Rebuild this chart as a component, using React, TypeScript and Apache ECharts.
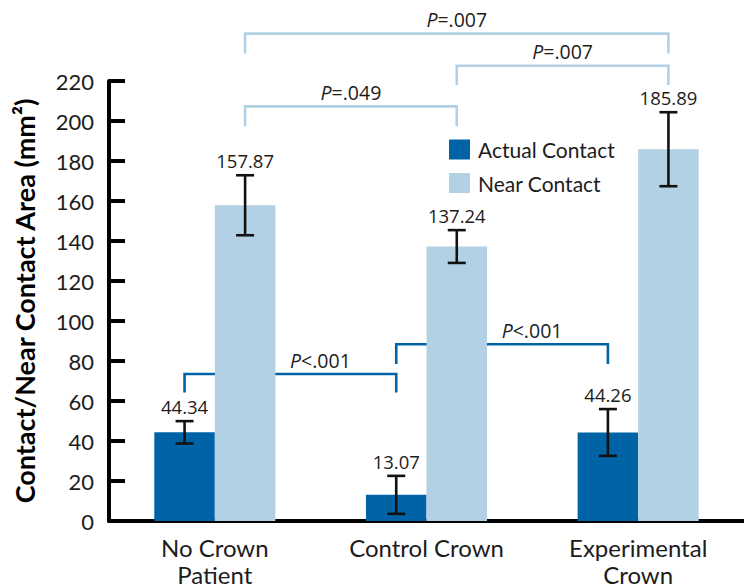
import React, { useEffect, useRef } from "react";
import * as echarts from "echarts";

// Group labels along the x axis
const categories = ["No Crown\nPatient", "Control Crown", "Experimental\nCrown"];

// Mean contact areas (mm²) and their error bar half-widths
const actualMeans = [44.34, 13.07, 44.26];
const actualErrors = [5.6, 9.5, 11.7];
const nearMeans = [157.87, 137.24, 185.89];
const nearErrors = [15.0, 8.2, 18.5];

// Y axis ticks
const yMin = 0;
const yMax = 220;
const yStep = 20;

// Significance brackets: [fromGroup, toGroup, barLevel, legLevel]
const actualBrackets = [
  [0, 1, 73.5, 64.2],
  [1, 2, 88.4, 78.5],
];
const actualBracketLabels = ["P<.001", "P<.001"];
const nearBrackets = [
  [0, 1, 207.3, 197.4],
  [1, 2, 227.6, 218.0],
  [0, 2, 243.7, 233.7],
];
const nearBracketLabels = ["P=.049", "P=.007", "P=.007"];

const DARK = "#0063a6";
const LIGHT = "#b3d1e5";
const INK = "#1c1c1c";
const FONT = "'Open Sans', 'Noto Sans', sans-serif";
const LABEL_FONT = "Lato, 'Open Sans', sans-serif";
const BAR_FRACTION = 0.286; // bar width as share of a category band

function pLabelRich(label: string) {
  // italic P followed by the comparison
  return "{i|P}{n|" + label.slice(1) + "}";
}

function errorRender(sign: number) {
  return (params: any, api: any) => {
    const idx = api.value(0);
    const mean = api.value(1);
    const err = api.value(2);
    const band = api.size([1, 0])[0];
    const dx = (sign * band * BAR_FRACTION) / 2;
    const top = api.coord([idx, mean + err]);
    const bot = api.coord([idx, mean - err]);
    const x = top[0] + dx;
    const cap = 9;
    const stroke = { stroke: "#111", lineWidth: 2.6 };
    return {
      type: "group",
      children: [
        { type: "line", shape: { x1: x, y1: top[1], x2: x, y2: bot[1] }, style: stroke },
        { type: "line", shape: { x1: x - cap, y1: top[1], x2: x + cap, y2: top[1] }, style: stroke },
        { type: "line", shape: { x1: x - cap, y1: bot[1], x2: x + cap, y2: bot[1] }, style: stroke },
        {
          type: "text",
          x: x,
          y: top[1] - 5,
          style: {
            text: mean.toFixed(2),
            fill: INK,
            fontSize: 18.5,
            fontFamily: FONT,
            align: "center",
            verticalAlign: "bottom",
          },
        },
      ],
    };
  };
}

function bracketRender(sign: number, color: string, labels: string[], labelShift: number) {
  return (params: any, api: any) => {
    const a = api.value(0);
    const b = api.value(1);
    const level = api.value(2);
    const leg = api.value(3);
    const band = api.size([1, 0])[0];
    const dx = (sign * band * BAR_FRACTION) / 2;
    const pA = api.coord([a, level]);
    const pB = api.coord([b, level]);
    const legY = api.coord([a, leg])[1];
    const x1 = pA[0] + dx;
    const x2 = pB[0] + dx;
    const y = pA[1];
    return {
      type: "group",
      children: [
        {
          type: "polyline",
          shape: { points: [[x1, legY], [x1, y], [x2, y], [x2, legY]] },
          style: { stroke: color, lineWidth: 2.6, fill: "none" },
        },
        {
          type: "text",
          x: (x1 + x2) / 2 + labelShift,
          y: y - 4,
          style: {
            text: pLabelRich(labels[params.dataIndex]),
            align: "center",
            verticalAlign: "bottom",
            fill: INK,
            fontSize: 19.5,
            fontFamily: FONT,
            rich: {
              i: { fontStyle: "italic", fontSize: 19.5, fontFamily: FONT, fill: INK },
              n: { fontSize: 19.5, fontFamily: FONT, fill: INK },
            },
          },
        },
      ],
    };
  };
}

export default function App() {
  const ref = useRef<HTMLDivElement>(null);

  useEffect(() => {
    document.body.style.margin = "0";
    if (!ref.current) return;
    const chart = echarts.init(ref.current, null, { renderer: "svg" });
    chart.setOption({
      animation: false,
      backgroundColor: "#ffffff",
      textStyle: { fontFamily: FONT },
      grid: { left: 109, top: 81, width: 639, height: 444, containLabel: false },
      legend: {
        data: ["Actual Contact", "Near Contact"],
        orient: "vertical",
        left: 449,
        top: 139,
        padding: 0,
        itemWidth: 21,
        itemHeight: 20,
        itemGap: 12.5,
        icon: "rect",
        textStyle: { fontSize: 21, color: INK, fontFamily: LABEL_FONT, padding: [0, 0, 0, 3] },
      },
      xAxis: {
        type: "category",
        data: categories,
        axisLine: { lineStyle: { color: "#000", width: 4 } },
        axisTick: { show: false },
        axisLabel: {
          fontSize: 24,
          lineHeight: 27,
          color: INK,
          margin: 13,
          fontFamily: LABEL_FONT,
        },
      },
      yAxis: {
        type: "value",
        min: yMin,
        max: yMax,
        interval: yStep,
        name: "Contact/Near Contact Area (mm²)",
        nameLocation: "middle",
        nameGap: 71,
        nameTextStyle: { fontSize: 27, fontWeight: "bold", color: "#000", fontFamily: LABEL_FONT },
        axisLine: { show: true, lineStyle: { color: "#000", width: 4 } },
        axisTick: { show: true, inside: true, length: 16, lineStyle: { color: "#000", width: 4 } },
        splitLine: { show: false },
        axisLabel: { fontSize: 22, color: INK, margin: 15, fontFamily: LABEL_FONT },
      },
      series: [
        {
          name: "Actual Contact bracket",
          type: "custom",
          z: 1,
          clip: false,
          renderItem: bracketRender(-1, DARK, actualBracketLabels, 30),
          encode: { x: [0, 1], y: [2, 3] },
          data: actualBrackets,
        },
        {
          name: "Near Contact bracket",
          type: "custom",
          z: 1,
          clip: false,
          renderItem: bracketRender(1, LIGHT, nearBracketLabels, 0),
          encode: { x: [0, 1], y: [2, 3] },
          data: nearBrackets,
        },
        {
          name: "Actual Contact",
          type: "bar",
          z: 2,
          data: actualMeans,
          barWidth: (BAR_FRACTION * 100).toFixed(1) + "%",
          barGap: "0%",
          itemStyle: { color: DARK },
        },
        {
          name: "Near Contact",
          type: "bar",
          z: 2,
          data: nearMeans,
          barWidth: (BAR_FRACTION * 100).toFixed(1) + "%",
          barGap: "0%",
          itemStyle: { color: LIGHT },
        },
        {
          name: "Actual Contact error",
          type: "custom",
          z: 3,
          clip: false,
          renderItem: errorRender(-1),
          encode: { x: 0, y: 1 },
          data: actualMeans.map((m, i) => [i, m, actualErrors[i]]),
        },
        {
          name: "Near Contact error",
          type: "custom",
          z: 3,
          clip: false,
          renderItem: errorRender(1),
          encode: { x: 0, y: 1 },
          data: nearMeans.map((m, i) => [i, m, nearErrors[i]]),
        },
      ],
    });
    return () => chart.dispose();
  }, []);

  return <div ref={ref} style={{ width: 744, height: 588 }} />;
}
